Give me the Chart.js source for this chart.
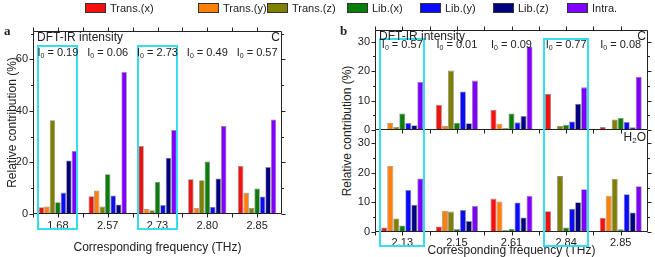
<!DOCTYPE html>
<html>
<head>
<meta charset="utf-8">
<script src="https://cdn.jsdelivr.net/npm/chart.js@4.4.1/dist/chart.umd.min.js"></script>
<style>
    body { margin: 0; background: #fff; }
    #wrap { position: relative; width: 655px; height: 257px; overflow: hidden; font-family: "Liberation Sans", Arial, sans-serif; color: #222; }
    canvas { position: absolute; }
    .lg { position: absolute; top: 2px; font-size: 11px; line-height: 12px; white-space: nowrap; z-index: 2; }
    .lg span { display: inline-block; width: 21px; height: 10px; border: 1px solid #333; box-sizing: border-box; vertical-align: -1px; margin-right: 4px; }
    .pl { position: absolute; font-family: "Liberation Serif", "Times New Roman", serif; font-weight: bold; font-size: 13px; z-index: 2; }
    #yTitleB { position: absolute; left: 347px; top: 131px; transform: translate(-50%, -50%) rotate(-90deg); font-size: 12px; white-space: nowrap; }
</style>
</head>
<body>
<div id="wrap">
    <div id="legend"></div>
    <div class="pl" style="left:4px; top:23px;">a</div>
    <div class="pl" style="left:340px; top:23px;">b</div>
    <div id="yTitleB">Relative contribution (%)</div>
    <canvas id="chartA" width="300" height="257" style="left:0; top:0;"></canvas>
    <canvas id="chartBH" width="325" height="127" style="left:330px; top:130px;"></canvas>
    <canvas id="chartBC" width="325" height="140" style="left:330px; top:0;"></canvas>
</div>

<script>
// vibration modes, in legend order
const modes = ['Trans.(x)', 'Trans.(y)', 'Trans.(z)', 'Lib.(x)', 'Lib.(y)', 'Lib.(z)', 'Intra.'];
const modeColors = ['#f51010', '#ff8008', '#808000', '#0a7d0a', '#0a0aff', '#000080', '#8000ff'];

// panel a
const freqA = ['1.68', '2.57', '2.73', '2.80', '2.85'];
const intensityA = ['0.19', '0.06', '2.73', '0.49', '0.57'];
const boxedA = ['1.68', '2.73'];
const yTicksA = [0, 20, 40, 60];
// one row per mode, one column per frequency
const contribA = [
    [2.6, 6.9, 26.4, 13.5, 18.6],
    [2.9, 9.1, 2.0, 2.3, 8.2],
    [36.4, 2.9, 1.5, 13.1, 2.3],
    [4.6, 15.4, 12.4, 20.4, 9.9],
    [8.3, 7.2, 3.5, 2.8, 6.8],
    [20.8, 3.7, 21.8, 13.8, 18.2],
    [24.4, 55.1, 32.6, 34.1, 36.7]
];

// panel b
const freqB = ['2.13', '2.15', '2.61', '2.84', '2.85'];
const intensityB = ['0.57', '0.01', '0.09', '0.77', '0.08'];
const boxedB = ['2.13', '2.84'];
const yTicksB = [0, 10, 20, 30];
const contribBC = [
    [0.3, 8.6, 6.8, 12.2, 1.0],
    [2.4, 1.4, 2.1, 0.1, 0.2],
    [1.0, 20.2, 0.7, 1.4, 3.6],
    [5.6, 2.5, 5.6, 1.8, 4.1],
    [2.4, 13.1, 2.6, 2.9, 2.7],
    [1.6, 2.3, 4.8, 8.9, 0.9],
    [16.4, 16.8, 28.4, 14.5, 18.1]
];
const contribBH = [
    [1.5, 1.9, 11.3, 7.0, 4.8],
    [22.3, 7.2, 10.3, 0, 12.3],
    [4.6, 6.9, 0.7, 18.9, 18.0],
    [2.2, 1.0, 1.1, 1.5, 0.9],
    [14.2, 7.4, 10.0, 7.9, 12.8],
    [9.2, 3.7, 4.9, 10.1, 6.6],
    [18.1, 8.8, 12.3, 14.5, 15.5]
];

// legend slots across the top of the figure
const legendLeft = [85, 198, 267, 347, 420, 493, 567];

const FONT = '"Liberation Sans", Arial, sans-serif';
const INK = '#222';
Chart.defaults.font.family = FONT;
Chart.defaults.font.size = 11;
Chart.defaults.color = INK;

document.getElementById('legend').innerHTML = modes.map((m, i) =>
    `<div class="lg" style="left:${legendLeft[i]}px"><span style="background:${modeColors[i]}"></span>${m}</div>`
).join('');

// axis box with outward ticks on all sides
const framePlugin = {
    id: 'frame',
    afterDraw(chart, args, opts) {
        const { ctx, chartArea: a, scales: { x, y } } = chart;
        const L = Math.round(a.left) + 0.5, R = Math.round(a.right) - 0.5;
        const T = Math.round(a.top) + 0.5, B = Math.round(a.bottom) - 0.5;
        ctx.save();
        ctx.strokeStyle = INK;
        ctx.lineWidth = 1;
        ctx.beginPath();
        ctx.moveTo(L, T); ctx.lineTo(L, B);
        ctx.moveTo(R, T); ctx.lineTo(R, B);
        if (opts.top) { ctx.moveTo(L, T); ctx.lineTo(R, T); }
        if (opts.bottom) { ctx.moveTo(L, B); ctx.lineTo(R, B); }
        for (let v = 0; v <= y.max + 0.01; v += opts.minor) {
            const py = Math.round(y.getPixelForValue(v)) + 0.5;
            const len = v % opts.major === 0 ? 4 : 2.5;
            ctx.moveTo(L - len, py); ctx.lineTo(L, py);
            ctx.moveTo(R, py); ctx.lineTo(R + len, py);
        }
        const n = x.ticks.length;
        for (let i = -0.5; i <= n - 0.5; i += 0.5) {
            const px = Math.round(x.getPixelForValue(i)) + 0.5;
            if (px < L || px > R) continue;
            if (opts.top) { ctx.moveTo(px, T); ctx.lineTo(px, T - 4); }
            if (opts.bottom) { ctx.moveTo(px, B); ctx.lineTo(px, B + 4); }
        }
        ctx.stroke();
        ctx.restore();
    }
};

// cyan boxes and the text written inside the plots
const notesPlugin = {
    id: 'notes',
    afterDraw(chart, args, opts) {
        const { ctx, chartArea: a, scales: { x } } = chart;
        const labels = chart.data.labels;
        const catW = x.getPixelForValue(1) - x.getPixelForValue(0);
        ctx.save();
        ctx.strokeStyle = '#33dfee';
        ctx.lineWidth = 2;
        (opts.boxed || []).forEach(lab => {
            const cx = x.getPixelForValue(labels.indexOf(lab));
            const w = catW * opts.boxFrac;
            ctx.strokeRect(Math.round(cx - w / 2), opts.boxTop, Math.round(w), opts.boxBottom - opts.boxTop);
        });
        ctx.fillStyle = INK;
        ctx.textBaseline = 'middle';
        if (opts.intensity) {
            opts.intensity.forEach((val, i) => {
                const cx = x.getPixelForValue(i);
                const rest = ' = ' + val;
                ctx.font = '11px ' + FONT;
                const wI = ctx.measureText('I').width;
                const wR = ctx.measureText(rest).width;
                ctx.font = '7px ' + FONT;
                const wS = ctx.measureText('0').width;
                let sx = cx - (wI + wS + wR) / 2;
                ctx.textAlign = 'left';
                ctx.font = '11px ' + FONT;
                ctx.fillText('I', sx, opts.labelY);
                ctx.font = '7px ' + FONT;
                ctx.fillText('0', sx + wI, opts.labelY + 3);
                ctx.font = '11px ' + FONT;
                ctx.fillText(rest, sx + wI + wS, opts.labelY);
            });
        }
        ctx.font = '12px ' + FONT;
        if (opts.title) {
            ctx.textAlign = 'left';
            ctx.fillText(opts.title, a.left + 4, a.top + 7);
        }
        if (opts.corner) {
            ctx.textAlign = 'right';
            ctx.fillText(opts.corner, a.right - 2, a.top + 7);
        }
        if (opts.water) {
            const wO = ctx.measureText('O').width;
            ctx.textAlign = 'right';
            ctx.fillText('O', a.right - 2, a.top + 8);
            ctx.font = '8px ' + FONT;
            const w2 = ctx.measureText('2').width;
            ctx.fillText('2', a.right - 2 - wO, a.top + 11);
            ctx.font = '12px ' + FONT;
            ctx.fillText('H', a.right - 2 - wO - w2, a.top + 8);
        }
        ctx.restore();
    }
};

function makeDatasets(rows) {
    return rows.map((vals, i) => ({
        label: modes[i],
        data: vals,
        backgroundColor: modeColors[i],
        borderColor: 'rgba(0,0,0,0.45)',
        borderWidth: 0.8,
        categoryPercentage: 0.77,
        barPercentage: 1.0
    }));
}

function buildChart(id, cfg) {
    const xTitle = { display: !!cfg.xTitle, text: cfg.xTitle, font: { size: 12, lineHeight: 1 }, color: INK, padding: { top: 0, bottom: cfg.xTitlePad || 0 } };
    return new Chart(document.getElementById(id), {
        type: 'bar',
        data: { labels: cfg.labels, datasets: makeDatasets(cfg.rows) },
        options: {
            responsive: false,
            animation: false,
            devicePixelRatio: 1,
            layout: { padding: cfg.padding },
            plugins: {
                legend: { display: false },
                tooltip: { enabled: false },
                frame: cfg.frame,
                notes: cfg.notes
            },
            scales: {
                x: {
                    display: cfg.showX,
                    grid: { display: false, drawTicks: false },
                    border: { display: false },
                    ticks: { padding: cfg.xTickPad, color: INK, font: { size: 11 } },
                    title: xTitle,
                    afterFit: s => { s.height = cfg.xHeight; s.paddingLeft = 0; s.paddingRight = 0; }
                },
                y: {
                    min: 0,
                    max: cfg.yMax,
                    grid: { display: false, drawTicks: false },
                    border: { display: false },
                    ticks: { padding: 5, color: INK, font: { size: 11 } },
                    title: {
                        display: !!cfg.yTitle, text: cfg.yTitle, color: INK,
                        font: { size: 12, lineHeight: 1.2 }, padding: { top: 5, bottom: 0 }
                    },
                    afterBuildTicks: s => { s.ticks = cfg.yTicks.map(v => ({ value: v })); },
                    afterFit: s => { s.width = cfg.yWidth; s.paddingTop = 0; s.paddingBottom = 0; }
                }
            }
        },
        plugins: [framePlugin, notesPlugin]
    });
}

buildChart('chartA', {
    labels: freqA, rows: contribA, yMax: 71, yTicks: yTicksA,
    padding: { left: 0, right: 18, top: 31, bottom: 0 },
    yWidth: 33, xHeight: 43, xTickPad: 5, showX: true,
    xTitle: 'Corresponding frequency (THz)', xTitlePad: 3,
    yTitle: 'Relative contribution (%)',
    frame: { top: true, bottom: true, major: 20, minor: 10 },
    notes: { boxed: boxedA, boxFrac: 0.79, boxTop: 46, boxBottom: 229, intensity: intensityA, labelY: 53,
             title: 'DFT-IR intensity', corner: 'C' }
});

// upper half of b: canvas runs 10px past the shared axis so the "0" label is not cut
buildChart('chartBC', {
    labels: freqB, rows: contribBC, yMax: 34, yTicks: yTicksB,
    padding: { left: 0, right: 7, top: 30, bottom: 10 },
    yWidth: 45, xHeight: 0, xTickPad: 0, showX: false,
    frame: { top: true, bottom: true, major: 10, minor: 5 },
    notes: { boxed: boxedB, boxFrac: 0.8, boxTop: 39, boxBottom: 150, intensity: intensityB, labelY: 45,
             title: 'DFT-IR intensity', corner: 'C' }
});

buildChart('chartBH', {
    labels: freqB, rows: contribBH, yMax: 34.5, yTicks: yTicksB,
    padding: { left: 0, right: 7, top: 0, bottom: 0 },
    yWidth: 45, xHeight: 25, xTickPad: 4, showX: true,
    xTitle: 'Corresponding frequency (THz)', xTitlePad: 0,
    frame: { top: false, bottom: true, major: 10, minor: 5 },
    notes: { boxed: boxedB, boxFrac: 0.8, boxTop: -10, boxBottom: 116, water: true }
});
</script>
</body>
</html>
